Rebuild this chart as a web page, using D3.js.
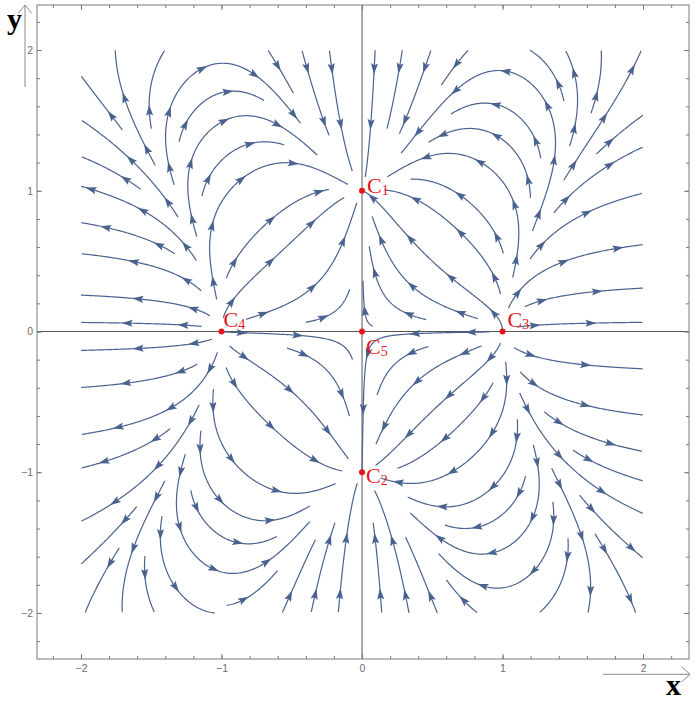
<!DOCTYPE html>
<html>
<head>
<meta charset="utf-8">
<script src="https://cdn.jsdelivr.net/npm/d3@7"></script>
<style>
  body { margin: 0; background: #fff; }
  svg { display: block; }
</style>
</head>
<body>
<div id="chart"></div>
<script>
// critical points C1..C5 of the system
const critX = [0, 0, 1, -1, 0];
const critY = [1, -1, 0, 0, 0];
const critIndex = ["1", "2", "3", "4", "5"];
// label offsets (px) for each critical point label
const labelDx = [5, 4, 5, 2, 4];
const labelDy = [2, 11, -5, -5, 22];

// frame ticks
const majorTicks = [-2, -1, 0, 1, 2];
const minorTicks = d3.range(-22, 23, 2).map(d => d / 10);

// coefficients of the vector field
//   x' = x (x^2 - 1 - a y^2)
//   y' = y (1 - y^2 + b x^2 y^2 / (1 + c x^2))
const fieldA = 0.5, fieldB = 1.26, fieldC = 0.72;

const W = 697, H = 701;
const svg = d3.select("#chart").append("svg")
  .attr("width", W).attr("height", H);

const x = d3.scaleLinear().domain([-2.313, 2.327]).range([37, 689]);
const y = d3.scaleLinear().domain([-2.327, 2.32]).range([659, 5]);

function field(px, py) {
  const x2 = px * px, y2 = py * py;
  return [px * (x2 - 1 - fieldA * y2), py * (1 - y2 + fieldB * x2 * y2 / (1 + fieldC * x2))];
}
function dir(px, py) {
  const f = field(px, py);
  const n = Math.hypot(f[0], f[1]);
  if (n < 1e-9) return null;
  return [f[0] / n, f[1] / n];
}

// ---- evenly spaced streamlines ----
const lo = -2, hi = 2;
const dsep = 0.19, dtest = 0.095, h = 0.008, minLen = 0.12;
const ncell = Math.ceil((hi - lo) / dsep) + 1;
const cells = Array.from({ length: ncell * ncell }, () => []);

function addPoint(p) {
  const i = Math.floor((p[0] - lo) / dsep), j = Math.floor((p[1] - lo) / dsep);
  cells[j * ncell + i].push(p);
}
function taken(px, py, d) {
  const i = Math.floor((px - lo) / dsep), j = Math.floor((py - lo) / dsep);
  for (let dj = -1; dj <= 1; dj++) for (let di = -1; di <= 1; di++) {
    const a = i + di, b = j + dj;
    if (a < 0 || b < 0 || a >= ncell || b >= ncell) continue;
    for (const q of cells[b * ncell + a]) {
      const dx = q[0] - px, dy = q[1] - py;
      if (dx * dx + dy * dy < d * d) return true;
    }
  }
  return false;
}
function nearCrit(px, py, r) {
  for (let k = 0; k < critX.length; k++) {
    if (Math.hypot(px - critX[k], py - critY[k]) < r) return true;
  }
  return false;
}

function trace(seed, sgn) {
  const pts = [];
  let cx = seed[0], cy = seed[1];
  for (let i = 0; i < 4000; i++) {
    const k1 = dir(cx, cy);
    if (!k1) break;
    const k2 = dir(cx + sgn * k1[0] * h / 2, cy + sgn * k1[1] * h / 2);
    if (!k2) break;
    if (k1[0] * k2[0] + k1[1] * k2[1] < 0.3) break;
    const nx = cx + sgn * k2[0] * h, ny = cy + sgn * k2[1] * h;
    if (nx < lo || nx > hi || ny < lo || ny > hi) break;
    if (nearCrit(nx, ny, 0.012)) break;
    if (taken(nx, ny, dtest)) break;
    pts.push([nx, ny]);
    cx = nx; cy = ny;
  }
  return pts;
}

const streams = [];
const queue = [];
function tryStream(seed) {
  if (seed[0] < lo || seed[0] > hi || seed[1] < lo || seed[1] > hi) return;
  if (nearCrit(seed[0], seed[1], 0.05)) return;
  if (taken(seed[0], seed[1], dsep * 0.97)) return;
  const fwd = trace(seed, 1);
  const bwd = trace(seed, -1);
  const pts = bwd.reverse().concat([seed], fwd);
  if (pts.length * h < minLen) return;
  pts.forEach(addPoint);
  streams.push(pts);
  for (let k = 0; k < pts.length; k += 5) {
    const d = dir(pts[k][0], pts[k][1]);
    if (!d) continue;
    queue.push([pts[k][0] - d[1] * dsep, pts[k][1] + d[0] * dsep]);
    queue.push([pts[k][0] + d[1] * dsep, pts[k][1] - d[0] * dsep]);
  }
}

tryStream([0.5, 0.5]);
function drain() { while (queue.length) tryStream(queue.shift()); }
drain();
for (let gy = lo + 0.05; gy < hi; gy += dsep / 2) {
  for (let gx = lo + 0.05; gx < hi; gx += dsep / 2) {
    tryStream([gx, gy]);
    drain();
  }
}

// ---- draw ----
const streamColor = "#4a628f";
const plot = svg.append("g");

// axes through the origin
plot.append("line").attr("x1", x.range()[0]).attr("x2", x.range()[1])
  .attr("y1", y(0)).attr("y2", y(0)).attr("stroke", "#555").attr("stroke-width", 1);
plot.append("line").attr("x1", x(0)).attr("x2", x(0))
  .attr("y1", y.range()[0]).attr("y2", y.range()[1]).attr("stroke", "#555").attr("stroke-width", 1);

const line = d3.line().x(d => x(d[0])).y(d => y(d[1]));
plot.selectAll("path.stream").data(streams).join("path")
  .attr("class", "stream")
  .attr("d", line)
  .attr("fill", "none")
  .attr("stroke", streamColor)
  .attr("stroke-width", 1.2);

// arrowheads along each stream
const arrowLen = 11, arrowHalf = 3.6, arrowGap = 56, arrowStart = 24;
const heads = [];
streams.forEach(s => {
  const p = s.map(d => [x(d[0]), y(d[1])]);
  const cum = [0];
  for (let i = 1; i < p.length; i++) cum.push(cum[i - 1] + Math.hypot(p[i][0] - p[i - 1][0], p[i][1] - p[i - 1][1]));
  const L = cum[cum.length - 1];
  const positions = [];
  if (L < arrowStart + 4) { if (L > 14) positions.push(L * 0.75); }
  else for (let s0 = arrowStart; s0 <= L - 4; s0 += arrowGap) positions.push(s0);
  positions.forEach(pos => {
    let i = d3.bisectLeft(cum, pos);
    if (i < 1) i = 1;
    const t = (pos - cum[i - 1]) / Math.max(1e-9, cum[i] - cum[i - 1]);
    const tip = [p[i - 1][0] + t * (p[i][0] - p[i - 1][0]), p[i - 1][1] + t * (p[i][1] - p[i - 1][1])];
    let j = d3.bisectLeft(cum, pos - arrowLen);
    j = Math.max(0, Math.min(j, i - 1));
    let dx = tip[0] - p[j][0], dy = tip[1] - p[j][1];
    let n = Math.hypot(dx, dy);
    if (n < 1e-6) { dx = p[i][0] - p[i - 1][0]; dy = p[i][1] - p[i - 1][1]; n = Math.hypot(dx, dy); }
    dx /= n; dy /= n;
    const bx = tip[0] - dx * arrowLen, by = tip[1] - dy * arrowLen;
    const nx = tip[0] - dx * arrowLen * 0.82, ny = tip[1] - dy * arrowLen * 0.82;
    heads.push(`M${tip[0]},${tip[1]}L${bx - dy * arrowHalf},${by + dx * arrowHalf}L${nx},${ny}L${bx + dy * arrowHalf},${by - dx * arrowHalf}Z`);
  });
});
plot.selectAll("path.head").data(heads).join("path")
  .attr("class", "head")
  .attr("d", d => d)
  .attr("fill", streamColor);

// frame with ticks
const frame = svg.append("g");
frame.append("rect")
  .attr("x", x.range()[0]).attr("y", y.range()[1])
  .attr("width", x.range()[1] - x.range()[0]).attr("height", y.range()[0] - y.range()[1])
  .attr("fill", "none").attr("stroke", "#7a7a7a").attr("stroke-width", 1);

const fmt = d3.format("d");
function styleAxis(g) {
  g.select(".domain").remove();
  g.selectAll(".tick line").attr("stroke", "#7a7a7a");
  g.selectAll(".tick text").attr("fill", "#6d6d6d")
    .attr("font-family", "Liberation Sans, Arial, sans-serif").attr("font-size", 10.5);
}
frame.append("g").attr("transform", `translate(0,${y.range()[0]})`)
  .call(d3.axisBottom(x).tickValues(majorTicks).tickSize(-5).tickPadding(6).tickFormat(fmt)).call(styleAxis);
frame.append("g").attr("transform", `translate(0,${y.range()[0]})`)
  .call(d3.axisBottom(x).tickValues(minorTicks).tickSize(-3).tickFormat("")).call(styleAxis);
frame.append("g").attr("transform", `translate(0,${y.range()[1]})`)
  .call(d3.axisTop(x).tickValues(majorTicks).tickSize(-5).tickFormat("")).call(styleAxis);
frame.append("g").attr("transform", `translate(0,${y.range()[1]})`)
  .call(d3.axisTop(x).tickValues(minorTicks).tickSize(-3).tickFormat("")).call(styleAxis);
frame.append("g").attr("transform", `translate(${x.range()[0]},0)`)
  .call(d3.axisLeft(y).tickValues(majorTicks).tickSize(-5).tickPadding(4).tickFormat(fmt)).call(styleAxis);
frame.append("g").attr("transform", `translate(${x.range()[0]},0)`)
  .call(d3.axisLeft(y).tickValues(minorTicks).tickSize(-3).tickFormat("")).call(styleAxis);
frame.append("g").attr("transform", `translate(${x.range()[1]},0)`)
  .call(d3.axisRight(y).tickValues(majorTicks).tickSize(-5).tickFormat("")).call(styleAxis);
frame.append("g").attr("transform", `translate(${x.range()[1]},0)`)
  .call(d3.axisRight(y).tickValues(minorTicks).tickSize(-3).tickFormat("")).call(styleAxis);

// axis arrows and labels
const arrowStroke = "#8a8a8a";
svg.append("path").attr("d", "M25,87V5M18.3,13.3L25,5L31.7,13.3")
  .attr("fill", "none").attr("stroke", arrowStroke).attr("stroke-width", 1);
svg.append("path").attr("d", "M603,674.3H690M681.7,666.7L690,674.3L681.7,682")
  .attr("fill", "none").attr("stroke", arrowStroke).attr("stroke-width", 1);
svg.append("text").attr("x", 7).attr("y", 29).text("y")
  .attr("font-family", "Liberation Serif, Times New Roman, serif").attr("font-weight", "bold").attr("font-size", 30);
svg.append("text").attr("x", 666).attr("y", 695).text("x")
  .attr("font-family", "Liberation Serif, Times New Roman, serif").attr("font-weight", "bold").attr("font-size", 30);

// critical points
const crit = critX.map((cx, i) => ({ cx, cy: critY[i], k: critIndex[i], dx: labelDx[i], dy: labelDy[i] }));
svg.selectAll("circle.crit").data(crit).join("circle")
  .attr("class", "crit")
  .attr("cx", d => x(d.cx)).attr("cy", d => y(d.cy)).attr("r", 3)
  .attr("fill", "#e8141b");
const labels = svg.selectAll("text.crit").data(crit).join("text")
  .attr("class", "crit")
  .attr("x", d => x(d.cx) + d.dx).attr("y", d => y(d.cy) + d.dy)
  .attr("fill", "#e8141b")
  .attr("font-family", "Liberation Serif, Times New Roman, serif")
  .attr("font-size", 22);
labels.append("tspan").text("C");
labels.append("tspan").attr("font-size", 14).attr("dy", 2).text(d => d.k);
</script>
</body>
</html>
